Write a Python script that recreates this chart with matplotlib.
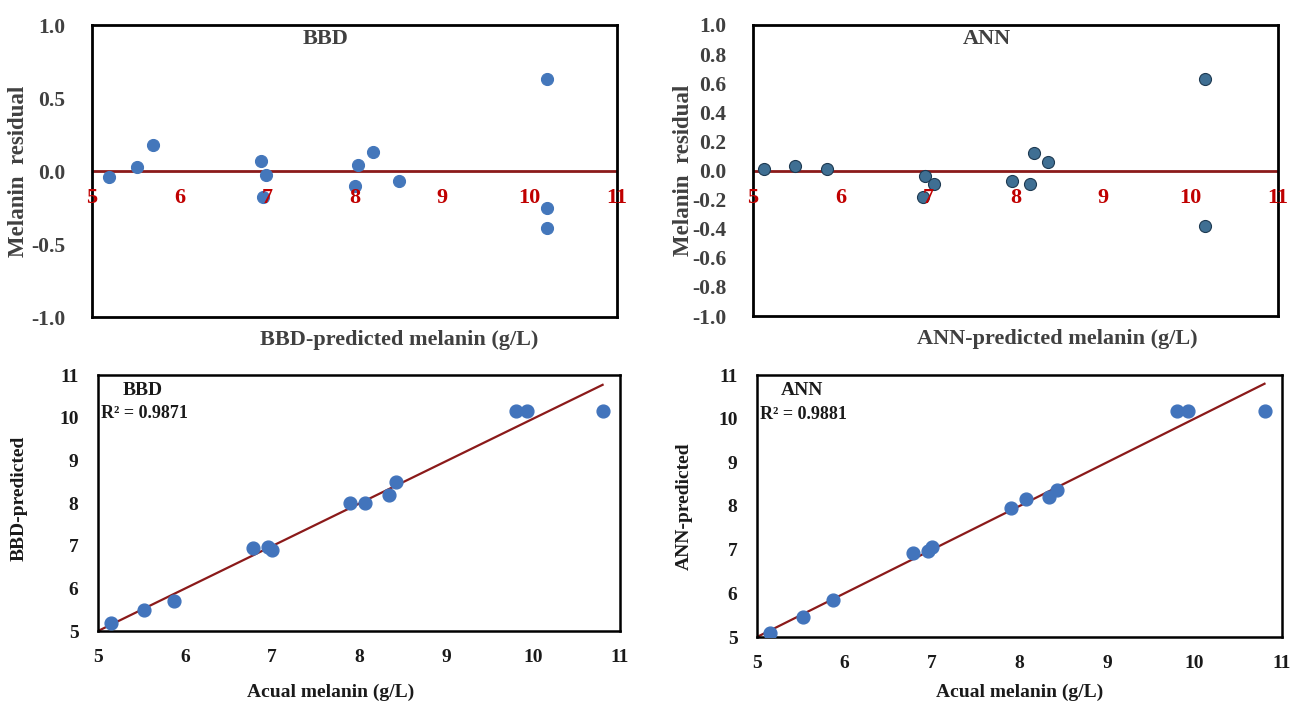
import matplotlib
matplotlib.use("Agg")
import matplotlib.pyplot as plt
import numpy as np

plt.rcParams['font.family'] = ['Liberation Serif', 'DejaVu Serif']
plt.rcParams['font.weight'] = 'bold'

# residual plots (predicted value, residual)
bbd_res_x = [5.19, 5.51, 5.70, 6.93, 6.99, 6.95, 8.04, 8.01, 8.21, 8.51, 10.20, 10.20, 10.20]
bbd_res_y = [-0.04, 0.03, 0.18, 0.07, -0.03, -0.18, 0.04, -0.10, 0.13, -0.07, 0.63, -0.25, -0.39]

ann_res_x = [5.13, 5.48, 5.85, 6.97, 7.07, 6.94, 7.96, 8.16, 8.21, 8.37, 10.17, 10.17]
ann_res_y = [0.01, 0.03, 0.01, -0.04, -0.09, -0.18, -0.07, -0.09, 0.12, 0.06, 0.63, -0.38]

# actual vs predicted
actual = [5.15, 5.53, 5.87, 6.78, 6.95, 7.00, 7.90, 8.07, 8.34, 8.43, 9.80, 9.93, 10.80]
bbd_pred = [5.19, 5.50, 5.70, 6.95, 6.98, 6.90, 8.01, 8.01, 8.19, 8.50, 10.16, 10.16, 10.16]
ann_pred = [5.10, 5.45, 5.84, 6.93, 6.97, 7.07, 7.96, 8.17, 8.21, 8.36, 10.17, 10.17, 10.17]

bbd_trend_x = [5.0, 10.8]
bbd_trend_y = [5.0, 10.77]
ann_trend_x = [5.0, 10.8]
ann_trend_y = [5.0, 10.8]

bbd_r2 = "R² = 0.9871"
ann_r2 = "R² = 0.9881"

res_xticks = [5, 6, 7, 8, 9, 10, 11]
bbd_res_yticks = [-1.0, -0.5, 0.0, 0.5, 1.0]
ann_res_yticks = [-1.0, -0.8, -0.6, -0.4, -0.2, 0.0, 0.2, 0.4, 0.6, 0.8, 1.0]
fit_ticks = [5, 6, 7, 8, 9, 10, 11]

W, H = 1294, 703
fig = plt.figure(figsize=(W / 100, H / 100), dpi=100)


def px_axes(x0, y0, x1, y1):
    return fig.add_axes([x0 / W, 1 - y1 / H, (x1 - x0) / W, (y1 - y0) / H])


grey = '#404040'
darkred = '#8B1A1A'


def residual_plot(ax, xs, ys, yticks, title, xlabel, fc, ec, lab_x):
    ax.set_xlim(5, 11)
    ax.set_ylim(-1, 1)
    ax.axhline(0, color=darkred, lw=2, zorder=1)
    ax.scatter(xs, ys, s=75, color=fc, edgecolors=ec, linewidths=0.8, zorder=3)
    ax.set_xticks([])
    ax.set_yticks(yticks)
    ax.set_yticklabels(['%.1f' % t for t in yticks], fontsize=15.5, color=grey,
                       fontweight='bold')
    ax.tick_params(axis='y', length=0, pad=19)
    # red x tick labels sit just under the zero line
    for t in res_xticks:
        ax.annotate(str(t), (t, 0), xytext=(0, -19.5), textcoords='offset points',
                    ha='center', va='center', fontsize=16, color='#C00000',
                    fontweight='bold', zorder=4, annotation_clip=False)
    for s in ax.spines.values():
        s.set_linewidth(2)
    ax.text(0.445, 0.952, title, transform=ax.transAxes, ha='center', va='center',
            fontsize=16, color=grey, fontweight='bold')
    ax.text(lab_x, -0.08, xlabel, transform=ax.transAxes, ha='center', va='center',
            fontsize=16, color=grey, fontweight='bold')
    ax.set_ylabel('Melanin  residual', fontsize=16.5, color=grey, fontweight='bold')


ax1 = px_axes(92, 25, 617, 317)
residual_plot(ax1, bbd_res_x, bbd_res_y, bbd_res_yticks, 'BBD',
              'BBD-predicted melanin (g/L)', '#4477BB', '#4477BB', 0.585)
ax1.yaxis.set_label_coords(-0.12, 0.5)

ax2 = px_axes(753, 25, 1278, 316)
residual_plot(ax2, ann_res_x, ann_res_y, ann_res_yticks, 'ANN',
              'ANN-predicted melanin (g/L)', '#3F6F93', '#1E3A52', 0.58)
ax2.yaxis.set_label_coords(-0.113, 0.5)


def fit_plot(ax, pred, tx, ty, name, r2, ylabel):
    ax.set_xlim(5, 11)
    ax.set_ylim(5, 11)
    ax.plot(tx, ty, color=darkred, lw=1.6, zorder=2)
    ax.scatter(actual, pred, s=85, color='#4274BC', edgecolors='#4274BC', zorder=3)
    ax.set_xticks(fit_ticks)
    ax.set_yticks(fit_ticks)
    ax.tick_params(length=0, labelsize=14)
    ax.tick_params(axis='x', pad=13)
    ax.tick_params(axis='y', pad=14)
    for lab in ax.get_xticklabels() + ax.get_yticklabels():
        lab.set_fontweight('bold')
        lab.set_color('#1a1a1a')
    for s in ax.spines.values():
        s.set_linewidth(1.8)
    ax.text(0.085, 0.94, name, transform=ax.transAxes, ha='center', va='center',
            fontsize=14, color='#1a1a1a', fontweight='bold')
    ax.text(0.005, 0.85, r2, transform=ax.transAxes, ha='left', va='center',
            fontsize=13, color='#1a1a1a', fontweight='bold')
    ax.set_xlabel('Acual melanin (g/L)', fontsize=14, color='#1a1a1a',
                  fontweight='bold')
    ax.set_ylabel(ylabel, fontsize=14, color='#1a1a1a', fontweight='bold')


ax3 = px_axes(98, 375, 620, 631)
fit_plot(ax3, bbd_pred, bbd_trend_x, bbd_trend_y, 'BBD', bbd_r2, 'BBD-predicted')
ax3.xaxis.set_label_coords(0.445, -0.205)
ax3.yaxis.set_label_coords(-0.135, 0.52)

ax4 = px_axes(757, 375, 1282, 637)
fit_plot(ax4, ann_pred, ann_trend_x, ann_trend_y, 'ANN', ann_r2, 'ANN-predicted')
ax4.xaxis.set_label_coords(0.5, -0.178)
ax4.yaxis.set_label_coords(-0.122, 0.5)

fig.savefig('out.png', dpi=100, facecolor='white')
